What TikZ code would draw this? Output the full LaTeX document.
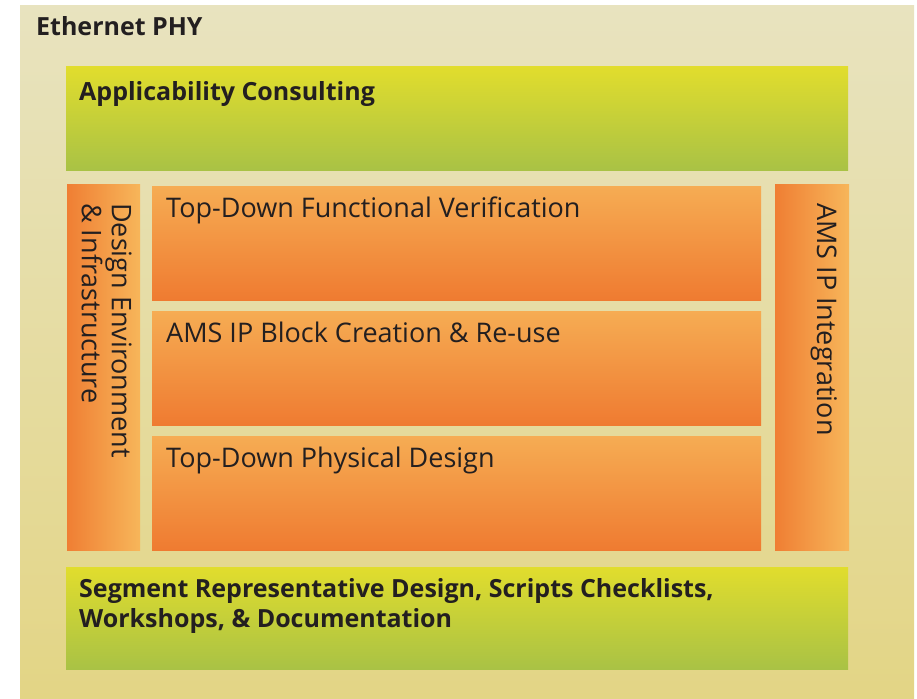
\documentclass[tikz,border=0pt]{standalone}
\usepackage{fontspec}
\setmainfont{Open Sans}
\usetikzlibrary{positioning,calc}

\definecolor{phytop}{HTML}{E8E3BF}
\definecolor{phybot}{HTML}{E3D585}
\definecolor{limetop}{HTML}{E1DD2D}
\definecolor{limebot}{HTML}{A9C245}
\definecolor{amberlight}{HTML}{F7B65A}
\definecolor{amberdark}{HTML}{EF7B31}
\definecolor{ink}{HTML}{231F20}

% vertical shadings run from bottom to top
\pgfdeclareverticalshading{rowshade}{100bp}{color(0bp)=(amberdark); color(25bp)=(amberdark); color(85bp)=(amberlight); color(100bp)=(amberlight)}
\pgfdeclarehorizontalshading{barshade}{100bp}{color(0bp)=(amberdark); color(22bp)=(amberdark); color(75bp)=(amberlight); color(100bp)=(amberlight)}

\begin{document}
\begin{tikzpicture}[x=1pt, y=-1pt, node distance=11pt,
    box/.style={inner sep=0pt, outer sep=0pt, anchor=north west},
    frame/.style={box, top color=phytop, bottom color=phybot},
    lime/.style={box, top color=limetop, bottom color=limebot, minimum width=782pt},
    row/.style={box, shading=rowshade, minimum width=609pt, minimum height=114pt},
    bar/.style={box, shading=barshade, minimum width=73pt, minimum height=366pt},
    txt/.style={inner sep=0pt, text=ink, font=\fontsize{27}{30}\selectfont},
    boldtxt/.style={txt, font=\fontsize{25}{30}\selectfont\bfseries}]

    \useasboundingbox (0,0) rectangle (917,698);

    % boxes
    \node[frame, minimum width=894pt, minimum height=692pt]   (phy)    at (20,6)    {};
    \node[lime, minimum height=103pt]                          (apc)    at (66,67)   {};
    \node[bar]                                                 (dei)    at (67,184)  {};
    \node[row]                                                 (tfv)    at (152,186) {};
    \node[row]                                                 (ipb)    [below=of tfv] {};
    \node[row]                                                 (tpd)    [below=of ipb] {};
    \node[bar, minimum width=74pt]                             (ipi)    at (775,184) {};
    \node[lime, minimum height=102pt]                          (srd)    at (66,567)  {};

    % labels
    \node[boldtxt, anchor=base west] (phylabel) at ($(phy.north west)+(16,30)$) {Ethernet PHY};
    \node[boldtxt, anchor=base west] (apclabel) at ($(apc.north west)+(13,33)$) {Applicability Consulting};
    \node[txt, anchor=base west]     (tfvlabel) at ($(tfv.north west)+(14,31)$) {Top-Down Functional Verification};
    \node[txt, anchor=base west]     (ipblabel) at ($(ipb.north west)+(14,31)$) {AMS IP Block Creation \& Re-use};
    \node[txt, anchor=base west]     (tpdlabel) at ($(tpd.north west)+(14,31)$) {Top-Down Physical Design};
    \node[boldtxt, anchor=north west, align=left] (srdlabel) at ($(srd.north west)+(13,11)$)
        {Segment Representative Design, Scripts Checklists,\\Workshops, \& Documentation};
    \node[txt, rotate=-90, anchor=north west, align=left] (deilabel) at ($(dei.north west)+(65,19)$)
        {Design Environment\\\& Infrastructure};
    \node[txt, rotate=-90, anchor=base west] (ipilabel) at ($(ipi.north west)+(42,19)$) {AMS IP Integration};

\end{tikzpicture}
\end{document}
